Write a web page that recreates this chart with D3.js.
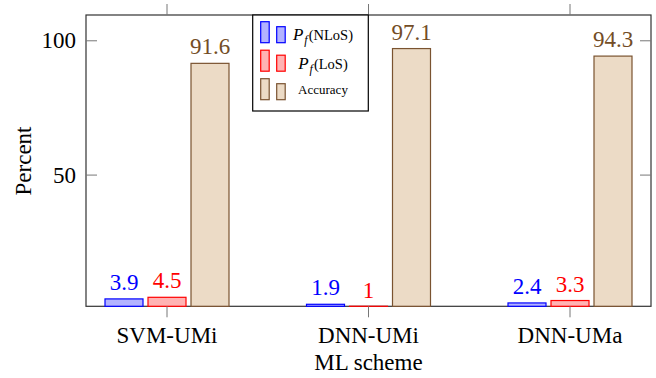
<!DOCTYPE html>
<html>
<head>
<meta charset="utf-8">
<script src="https://cdn.jsdelivr.net/npm/d3@7"></script>
<style>
  body { margin: 0; background: #fff; }
  svg text { font-family: "Liberation Serif", "Times New Roman", Times, serif; }
</style>
</head>
<body>
<svg id="chart" width="656" height="378"></svg>
<script>
// data
var schemes = ["SVM-UMi", "DNN-UMi", "DNN-UMa"];
var seriesKeys = ["nlos", "los", "acc"];
var pfNLoS = [3.9, 1.9, 2.4];
var pfLoS = [4.5, 1, 3.3];
var accuracy = [91.6, 97.1, 94.3];
var yTicks = [50, 100];

var colors = {
    nlos: { stroke: "#0000ff", fill: "#b3b3ff", text: "#0000ff" },
    los: { stroke: "#ff0000", fill: "#ffb3b3", text: "#ff0000" },
    acc: { stroke: "#7a5330", fill: "#ecdbc6", text: "#734d26" }
};

var svg = d3.select("#chart");
var plotLeft = 86, plotRight = 651, plotTop = 15, plotBottom = 306.3;

var y = d3.scaleLinear().domain([1.15, 109.6]).range([plotBottom, plotTop]);
var x = d3.scalePoint().domain(schemes).range([plotLeft + 81, plotRight - 81]);
var sub = d3.scaleBand().domain(seriesKeys).range([-62, 62]).paddingInner(5 / 43);

var rows = [];
schemes.forEach(function (s, i) {
    rows.push({ scheme: s, key: "nlos", value: pfNLoS[i] });
    rows.push({ scheme: s, key: "los", value: pfLoS[i] });
    rows.push({ scheme: s, key: "acc", value: accuracy[i] });
});

// frame
svg.append("rect")
    .attr("x", plotLeft).attr("y", plotTop)
    .attr("width", plotRight - plotLeft).attr("height", plotBottom - plotTop)
    .attr("fill", "none").attr("stroke", "#333").attr("stroke-width", 1.2);

// bars (values under the axis minimum collapse to a line on the axis)
function barTop(d) { return Math.min(y(d.value), plotBottom - 0.05); }
svg.append("g").selectAll("rect")
    .data(rows)
    .enter().append("rect")
    .attr("x", function (d) { return x(d.scheme) + sub(d.key); })
    .attr("y", barTop)
    .attr("width", sub.bandwidth())
    .attr("height", function (d) { return plotBottom - barTop(d); })
    .attr("fill", function (d) { return colors[d.key].fill; })
    .attr("stroke", function (d) { return colors[d.key].stroke; })
    .attr("stroke-width", 1.2);

// value labels
svg.append("g").selectAll("text")
    .data(rows)
    .enter().append("text")
    .attr("x", function (d) { return x(d.scheme) + sub(d.key) + sub.bandwidth() / 2; })
    .attr("y", function (d) { return y(d.value) - 9; })
    .attr("text-anchor", "middle")
    .attr("font-size", "23px")
    .attr("fill", function (d) { return colors[d.key].text; })
    .text(function (d) { return d.value; });

// y ticks (inside, both sides)
var yt = svg.append("g");
yTicks.forEach(function (t) {
    yt.append("line").attr("x1", plotLeft).attr("x2", plotLeft + 11)
        .attr("y1", y(t)).attr("y2", y(t)).attr("stroke", "#777");
    yt.append("line").attr("x1", plotRight - 11).attr("x2", plotRight)
        .attr("y1", y(t)).attr("y2", y(t)).attr("stroke", "#777");
    yt.append("text").attr("x", 76).attr("y", y(t)).attr("dy", "0.33em")
        .attr("text-anchor", "end").attr("font-size", "23px").text(t);
});

// x ticks (outside, top and bottom)
var xt = svg.append("g");
schemes.forEach(function (s) {
    xt.append("line").attr("x1", x(s)).attr("x2", x(s))
        .attr("y1", plotBottom).attr("y2", plotBottom + 11).attr("stroke", "#777");
    xt.append("line").attr("x1", x(s)).attr("x2", x(s))
        .attr("y1", plotTop).attr("y2", plotTop - 11).attr("stroke", "#777");
    xt.append("text").attr("x", x(s)).attr("y", 343)
        .attr("text-anchor", "middle").attr("font-size", "23px").text(s);
});

// axis titles
svg.append("text")
    .attr("transform", "translate(31,161) rotate(-90)")
    .attr("text-anchor", "middle").attr("font-size", "23px")
    .text("Percent");
svg.append("text")
    .attr("x", (plotLeft + plotRight) / 2).attr("y", 370)
    .attr("text-anchor", "middle").attr("font-size", "23px")
    .text("ML scheme");

// legend
var lg = svg.append("g");
lg.append("rect")
    .attr("x", 252.7).attr("y", plotTop)
    .attr("width", 115.6).attr("height", 96)
    .attr("fill", "#fff").attr("stroke", "#000").attr("stroke-width", 1.2);

var legendItems = [
    { key: "nlos", sup: "(NLoS)" },
    { key: "los", sup: "(LoS)" },
    { key: "acc", label: "Accuracy" }
];
legendItems.forEach(function (d, i) {
    var base = 42.7 + i * 28.5;
    var c = colors[d.key];
    lg.append("rect").attr("x", 260.7).attr("y", base - 21)
        .attr("width", 8.5).attr("height", 21)
        .attr("fill", c.fill).attr("stroke", c.stroke).attr("stroke-width", 1.2);
    lg.append("rect").attr("x", 276.7).attr("y", base - 16)
        .attr("width", 8.5).attr("height", 16)
        .attr("fill", c.fill).attr("stroke", c.stroke).attr("stroke-width", 1.2);
    var t = lg.append("text").attr("x", 323).attr("y", base - 2.5)
        .attr("text-anchor", "middle");
    if (d.label) {
        t.attr("y", base - 6).attr("font-size", "13px").text(d.label);
    } else {
        t.append("tspan").attr("font-size", "17px").attr("font-style", "italic").text("P");
        t.append("tspan").attr("font-size", "12px").attr("font-style", "italic")
            .attr("dy", 4).attr("dx", 1).text("f");
        t.append("tspan").attr("font-size", "14.5px").attr("dy", -4).attr("dx", 1).text(d.sup);
    }
});
</script>
</body>
</html>
